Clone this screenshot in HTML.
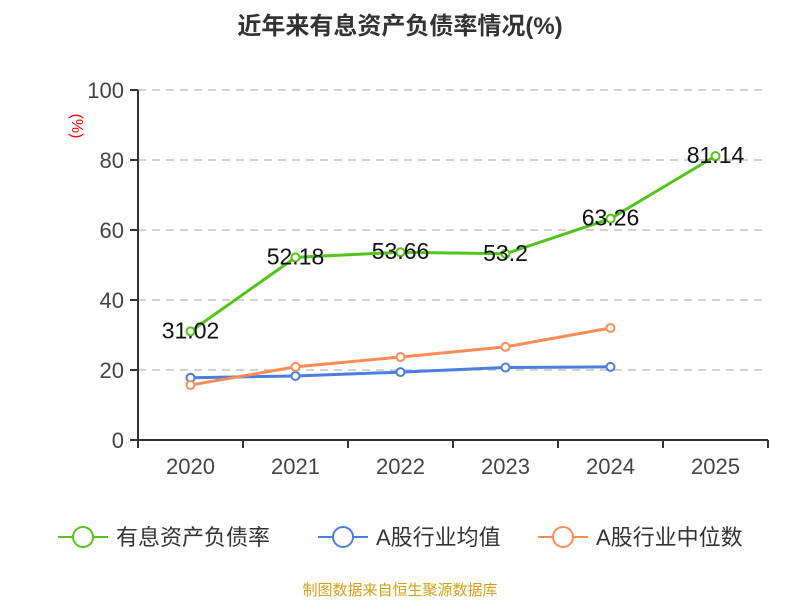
<!DOCTYPE html>
<html><head><meta charset="utf-8"><style>
body{margin:0;width:800px;height:600px;background:#fff;overflow:hidden;font-family:"Liberation Sans","Noto Sans CJK SC",sans-serif}
</style></head><body>
<svg id="c" width="800" height="600" xmlns="http://www.w3.org/2000/svg">
<text x="400" y="34" text-anchor="middle" font-size="24" font-weight="bold" fill="#333" font-family="Liberation Sans,Noto Sans CJK SC,sans-serif">近年来有息资产负债率情况(%)</text>
<text transform="translate(72,126) rotate(90)" text-anchor="middle" font-size="16" fill="#f00">(%)</text>
<text x="400" y="595" text-anchor="middle" font-size="15" fill="#d4a017" font-family="Liberation Sans,Noto Sans CJK SC,sans-serif">制图数据来自恒生聚源数据库</text>
</svg>
<script>
const categories=["2020","2021","2022","2023","2024","2025"];
const yTicks=[0,20,40,60,80,100];
const debtRatio=[31.02,52.18,53.66,53.2,63.26,81.14];
const industryAvg=[17.8,18.3,19.4,20.7,20.9];
const industryMedian=[15.7,20.9,23.7,26.6,32.0];
const seriesNames=["有息资产负债率","A股行业均值","A股行业中位数"];
const colors=["#52c41a","#4a7ee0","#ff8c55"];
const NS="http://www.w3.org/2000/svg",svg=document.getElementById('c');
const L=138,R=768,T=90,B=440;
const bw=(R-L)/categories.length;
const x=i=>L+bw*(i+0.5);
const y=v=>B-(v/100)*(B-T);
function mk(t,a,p){const e=document.createElementNS(NS,t);for(const k in a)e.setAttribute(k,a[k]);(p||svg).appendChild(e);return e;}
yTicks.forEach(v=>{
  if(v>0){const g=mk('line',{x1:L,x2:R,y1:y(v),y2:y(v),stroke:'#c4c4c4','stroke-width':1.5,'stroke-dasharray':'8,6'});
  
  }
  const tk=mk('line',{x1:L-8,x2:L,y1:y(v),y2:y(v),stroke:'#333','stroke-width':2});
  
  
  const t=mk('text',{x:L-14,y:y(v)+8,'text-anchor':'end','font-size':22,fill:'#444'});t.textContent=v;
  
  
});
const ya=mk('line',{x1:L,x2:L,y1:T,y2:B,stroke:'#333','stroke-width':2});


const xa=mk('line',{x1:L,x2:R,y1:B,y2:B,stroke:'#333','stroke-width':2});


for(let i=0;i<=categories.length;i++){const tk=mk('line',{x1:L+bw*i,x2:L+bw*i,y1:B,y2:B+8,stroke:'#333','stroke-width':2});
  
  }
categories.forEach((c,i)=>{const t=mk('text',{x:x(i),y:B+34,'text-anchor':'middle','font-size':22,fill:'#444'});t.textContent=c;
  
  });
function series(data,col,name,labels){
  const g=mk('g',{});
  
  
  mk('polyline',{points:data.map((v,i)=>x(i)+','+y(v)).join(' '),fill:'none',stroke:col,'stroke-width':3},g);
  data.forEach((v,i)=>{const p=mk('circle',{cx:x(i),cy:y(v),r:4,fill:'#fff',stroke:col,'stroke-width':2},g);
    
    
    if(labels){const t=mk('text',{x:x(i),y:y(v)+7,'text-anchor':'middle','font-size':23,fill:'#111'},g);t.textContent=v;
      
      }});
}
series(industryAvg,colors[1],'industry-avg-line',false);
series(industryMedian,colors[2],'industry-median-line',false);
series(debtRatio,colors[0],'debt-ratio-line',true);
const lx=[58,318,538];
seriesNames.forEach((n,i)=>{
  const g=mk('g',{});
  
  
  mk('line',{x1:lx[i],x2:lx[i]+50,y1:537,y2:537,stroke:colors[i],'stroke-width':2},g);
  mk('circle',{cx:lx[i]+25,cy:537,r:10,fill:'#fff',stroke:colors[i],'stroke-width':2},g);
  const t=mk('text',{x:lx[i]+58,y:545,'font-size':22,fill:'#333'},g);t.textContent=n;
});
</script>
</body></html>
